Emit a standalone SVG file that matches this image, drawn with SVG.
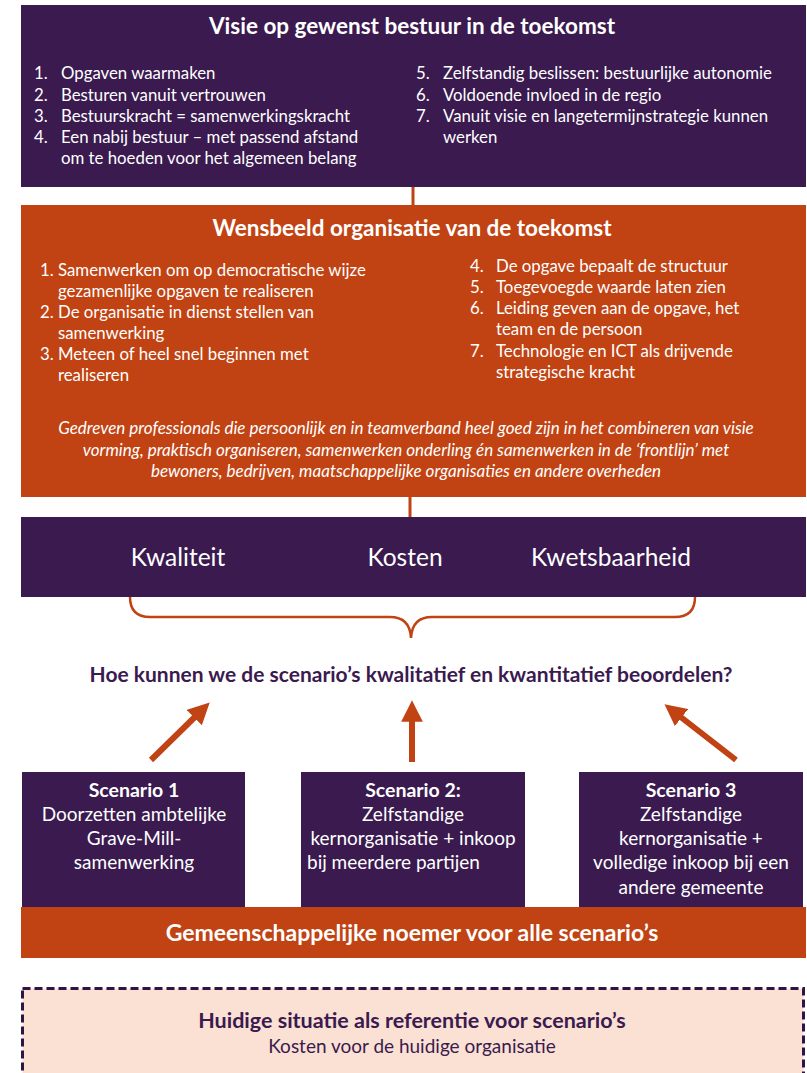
<svg xmlns="http://www.w3.org/2000/svg" width="807" height="1073" viewBox="0 0 807 1073">
  <defs>
    <style>
      text { font-family: Lato, "Noto Sans", "Liberation Sans", sans-serif; }
      .purple { fill: #3a1a4f; }
      .orange { fill: #c14313; }
      .w { fill: #ffffff; }
      .title { font-size: 22.5px; font-weight: 700; }
      .item { font-size: 16.8px; }
      .it { font-size: 17px; font-style: italic; }
      .k { font-size: 24.5px; }
      .sc { font-size: 19px; }
      .scb { font-size: 19.5px; font-weight: 700; }
      .conn { stroke: #c14313; fill: none; }
    </style>
    <marker id="head" viewBox="0 0 10 10" refX="5" refY="5" markerWidth="3.6" markerHeight="3.6" orient="auto" markerUnits="strokeWidth">
      <path d="M0,0 L10,5 L0,10 z" fill="#c14313"/>
    </marker>
  </defs>

  <rect width="807" height="1073" fill="#ffffff"/>

  <!-- connectors -->
  <g id="connectors">
    <line class="conn" x1="413" y1="186" x2="413" y2="206" stroke-width="3"/>
    <line class="conn" x1="410" y1="496" x2="410" y2="518" stroke-width="3"/>
    <path class="conn" stroke-width="2.5" d="M130,597 Q130,617 150,617 L390,617 Q410,617 411,638 Q412,617 432,617 L675,617 Q695,617 695,597"/>
    <line class="conn" x1="151" y1="760" x2="202" y2="710" stroke-width="6" marker-end="url(#head)"/>
    <line class="conn" x1="412" y1="762" x2="412" y2="711" stroke-width="6" marker-end="url(#head)"/>
    <line class="conn" x1="736" y1="760" x2="673" y2="711" stroke-width="6" marker-end="url(#head)"/>
  </g>

  <!-- governance vision -->
  <g id="visie">
    <rect x="21" y="5" width="785" height="182" class="purple"/>
    <text x="412" y="34" text-anchor="middle" class="w title">Visie op gewenst bestuur in de toekomst</text>
    <g class="w item">
      <text x="34" y="79">1.</text><text x="61" y="79">Opgaven waarmaken</text>
      <text x="34" y="101">2.</text><text x="61" y="101">Besturen vanuit vertrouwen</text>
      <text x="34" y="122">3.</text><text x="61" y="122">Bestuurskracht = samenwerkingskracht</text>
      <text x="34" y="143">4.</text><text x="61" y="143">Een nabij bestuur – met passend afstand</text>
      <text x="61" y="164">om te hoeden voor het  algemeen belang</text>
      <text x="416" y="79">5.</text><text x="443" y="79">Zelfstandig beslissen: bestuurlijke autonomie</text>
      <text x="416" y="101">6.</text><text x="443" y="101">Voldoende invloed in de regio</text>
      <text x="416" y="122">7.</text><text x="443" y="122">Vanuit visie en langetermijnstrategie kunnen</text>
      <text x="443" y="143">werken</text>
    </g>
  </g>

  <!-- organisation of the future -->
  <g id="wensbeeld">
    <rect x="21" y="205" width="785" height="292" class="orange"/>
    <text x="412" y="236" text-anchor="middle" class="w title">Wensbeeld organisatie van de toekomst</text>
    <g class="w item">
      <text x="40" y="276">1.</text><text x="58" y="276">Samenwerken om op democratische wijze</text>
      <text x="58" y="297">gezamenlijke opgaven te realiseren</text>
      <text x="40" y="318">2.</text><text x="58" y="318">De organisatie in dienst stellen van</text>
      <text x="58" y="339">samenwerking</text>
      <text x="40" y="360">3.</text><text x="58" y="360">Meteen of heel snel beginnen met</text>
      <text x="58" y="381">realiseren</text>
      <text x="470" y="272">4.</text><text x="496" y="272">De opgave bepaalt de structuur</text>
      <text x="470" y="293">5.</text><text x="496" y="293">Toegevoegde waarde laten zien</text>
      <text x="470" y="314">6.</text><text x="496" y="314">Leiding geven aan de opgave, het</text>
      <text x="496" y="335">team en de persoon</text>
      <text x="470" y="357">7.</text><text x="496" y="357">Technologie en ICT als drijvende</text>
      <text x="496" y="378">strategische kracht</text>
    </g>
    <g class="w it" text-anchor="middle">
      <text x="406" y="434">Gedreven professionals die persoonlijk en in teamverband heel goed zijn in het combineren van  visie</text>
      <text x="406" y="456">vorming, praktisch organiseren, samenwerken onderling én samenwerken in de ‘frontlijn’ met</text>
      <text x="406" y="477">bewoners, bedrijven, maatschappelijke organisaties  en andere overheden</text>
    </g>
  </g>

  <!-- assessment criteria -->
  <g id="criteria">
    <rect x="21" y="517" width="785" height="80" class="purple"/>
    <g class="w k" text-anchor="middle">
      <text x="178" y="566">Kwaliteit</text>
      <text x="405" y="566">Kosten</text>
      <text x="611" y="566">Kwetsbaarheid</text>
    </g>
  </g>

  <!-- central question -->
  <g id="vraag">
    <text x="411" y="682" text-anchor="middle" class="purple" font-size="21" font-weight="700">Hoe kunnen we de scenario’s kwalitatief en kwantitatief beoordelen?</text>
  </g>

  <!-- scenarios -->
  <g id="scenario1">
    <rect x="22" y="772" width="223" height="136" class="purple"/>
    <g class="w" text-anchor="middle">
      <text x="134" y="797" class="scb">Scenario 1</text>
      <text x="134" y="821" class="sc">Doorzetten ambtelijke</text>
      <text x="134" y="845" class="sc">Grave-Mill-</text>
      <text x="134" y="869" class="sc">samenwerking</text>
    </g>
  </g>
  <g id="scenario2">
    <rect x="301" y="772" width="224" height="136" class="purple"/>
    <g class="w">
      <text x="413" y="797" class="scb" text-anchor="middle">Scenario 2:</text>
      <text x="413" y="821" class="sc" text-anchor="middle">Zelfstandige</text>
      <text x="413" y="845" class="sc" text-anchor="middle">kernorganisatie + inkoop</text>
      <text x="307" y="869" class="sc">bij meerdere partijen</text>
    </g>
  </g>
  <g id="scenario3">
    <rect x="579" y="772" width="224" height="136" class="purple"/>
    <g class="w" text-anchor="middle">
      <text x="691" y="797" class="scb">Scenario 3</text>
      <text x="691" y="821" class="sc">Zelfstandige</text>
      <text x="691" y="845" class="sc">kernorganisatie +</text>
      <text x="691" y="869" class="sc">volledige inkoop bij een</text>
      <text x="691" y="894" class="sc">andere gemeente</text>
    </g>
  </g>

  <!-- common denominator -->
  <g id="noemer">
    <rect x="21" y="907" width="785" height="51" class="orange"/>
    <text x="412" y="941" text-anchor="middle" class="w" font-size="23" font-weight="700">Gemeenschappelijke noemer voor alle scenario’s</text>
  </g>

  <!-- current situation reference -->
  <g id="referentie">
    <rect x="22.5" y="988.5" width="781" height="100" fill="#fae1d3" stroke="#2e1545" stroke-width="3" stroke-dasharray="8 4"/>
    <text x="412" y="1028" text-anchor="middle" class="purple" font-size="21.5" font-weight="700">Huidige situatie als referentie voor scenario’s</text>
    <text x="412" y="1053" text-anchor="middle" class="purple" font-size="19">Kosten voor de huidige organisatie</text>
  </g>
</svg>
